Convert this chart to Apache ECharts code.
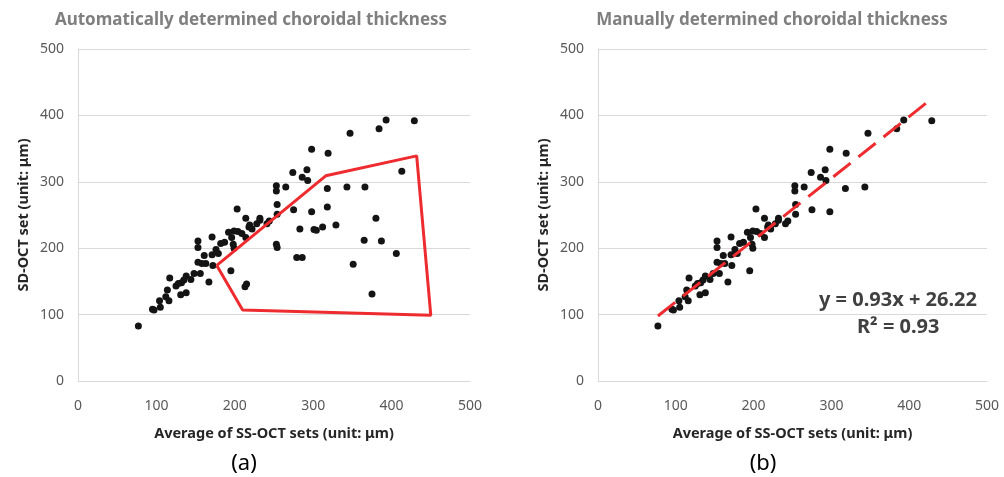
<!DOCTYPE html>
<html>
<head>
<meta charset="utf-8">
<script src="https://cdn.jsdelivr.net/npm/echarts@6/dist/echarts.min.js"></script>
<style>
html,body{margin:0;padding:0;background:#fff;}
#chart{width:1004px;height:477px;}
</style>
</head>
<body>
<div id="chart"></div>
<script>
// points found in both sets (SS-OCT average, SD-OCT)
var sharedPts = [[77,83],[95,108],[97,107],[105,111],[104,121],[114,137],[112,127],[116,121],[117,155],
  [125,143],[128,147],[131,130],[132,148],[138,158],[138,133],[135,152],[144,153],[148,162],[156,162],
  [153,179],[153,201],[153,211],[158,177],[161,189],[163,177],[167,149],[171,217],[171,190],[172,174],
  [176,198],[179,192],[182,207],[187,209],[192,224],[195,166],[196,216],[199,226],[199,200],[198,206],
  [203,259],[204,225],[209,222],[214,245],[214,216],[218,232],[219,235],[228,237],[232,245],[241,237],
  [222,229],[232,242],[244,241],[253,294],[253,286],[254,266],[254,251],[265,292],[274,314],[275,258],
  [286,307],[292,318],[293,302],[298,349],[298,255],[318,290],[319,343],[343,292],[347,373],[384,380],
  [393,393],[429,392]];
// extra points only in the automatic set (inside the red outline)
var autoOnlyPts = [[213,142],[215,146],[253,206],[254,201],[279,186],[286,186],[283,229],[301,228],
  [304,227],[312,232],[318,262],[329,235],[351,176],[365,212],[366,292],[375,131],[380,245],[387,211],
  [406,192],[413,316]];
// red outline around the outliers
var outlinePts = [[177,174],[316,309],[432,339],[450,99],[210,107],[177,174]];
// trend line y = 0.93x + 26.22
var trendX = [77, 425];
var slope = 0.93, intercept = 26.22;
var axisTicks = [0, 100, 200, 300, 400, 500];

var autoPts = sharedPts.concat(autoOnlyPts);
var trendPts = trendX.map(function (x) { return [x, slope * x + intercept]; });

var chart = echarts.init(document.getElementById('chart'), null, {renderer: 'canvas'});
var font = '"Noto Sans", sans-serif';

function xAx(idx) {
  return {
    gridIndex: idx, type: 'value', min: axisTicks[0], max: axisTicks[axisTicks.length - 1], interval: 100,
    name: 'Average of SS-OCT sets (unit: \u03bcm)', nameLocation: 'middle', nameGap: 45,
    nameTextStyle: {fontFamily: font, fontSize: 14.5, fontWeight: 'bold', color: '#262626'},
    axisLine: {show: true, lineStyle: {color: '#d9d9d9'}},
    axisTick: {show: false},
    axisLabel: {fontFamily: font, fontSize: 14, color: '#595959', margin: 18},
    splitLine: {show: false}
  };
}
function yAx(idx) {
  return {
    gridIndex: idx, type: 'value', min: 0, max: 500, interval: 100,
    name: 'SD-OCT set (unit: \u03bcm)', nameLocation: 'middle', nameGap: 47,
    nameTextStyle: {fontFamily: font, fontSize: 14.5, fontWeight: 'bold', color: '#262626'},
    axisLine: {show: true, lineStyle: {color: '#d9d9d9'}},
    axisTick: {show: false},
    axisLabel: {fontFamily: font, fontSize: 14, color: '#595959', margin: 14},
    splitLine: {show: true, lineStyle: {color: '#d9d9d9', width: 1}}
  };
}

chart.setOption({
  animation: false,
  title: [
    {text: 'Automatically determined choroidal thickness', left: 246, top: 7, textAlign: 'center',
      textStyle: {fontFamily: font, fontSize: 17, fontWeight: 'bold', color: '#7f7f7f'}},
    {text: 'Manually determined choroidal thickness', left: 767, top: 7, textAlign: 'center',
      textStyle: {fontFamily: font, fontSize: 17, fontWeight: 'bold', color: '#7f7f7f'}},
    {text: '(a)', left: 239, top: 448, textAlign: 'center',
      textStyle: {fontFamily: font, fontSize: 22, fontWeight: 'normal', color: '#000'}},
    {text: '(b)', left: 758, top: 448, textAlign: 'center',
      textStyle: {fontFamily: font, fontSize: 22, fontWeight: 'normal', color: '#000'}}
  ],
  grid: [
    {left: 78, top: 49, width: 392, height: 332},
    {left: 598, top: 49, width: 389, height: 332}
  ],
  xAxis: [xAx(0), xAx(1)],
  yAxis: [yAx(0), yAx(1)],
  graphic: [
    {type: 'text', left: 819, top: 290, style: {text: 'y = 0.93x + 26.22', font: 'bold 20px "Noto Sans"', fill: '#404040'}},
    {type: 'text', left: 857, top: 317, style: {text: 'R\u00b2 = 0.93', font: 'bold 20px "Noto Sans"', fill: '#404040'}}
  ],
  series: [
    {type: 'scatter', xAxisIndex: 0, yAxisIndex: 0, data: autoPts, symbolSize: 7,
      itemStyle: {color: '#141414', opacity: 1}, z: 3},
    {type: 'line', xAxisIndex: 0, yAxisIndex: 0, data: outlinePts, symbol: 'none',
      lineStyle: {color: '#ee2b2f', width: 3}, z: 4},
    {type: 'scatter', xAxisIndex: 1, yAxisIndex: 1, data: sharedPts, symbolSize: 7,
      itemStyle: {color: '#141414', opacity: 1}, z: 3},
    {type: 'line', xAxisIndex: 1, yAxisIndex: 1, data: trendPts, symbol: 'none',
      lineStyle: {color: '#ee2b2f', width: 3, type: [22, 10]}, z: 4}
  ]
});
</script>
</body>
</html>
